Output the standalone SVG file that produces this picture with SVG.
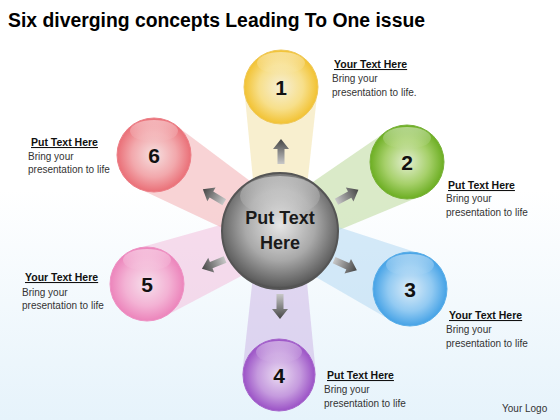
<svg xmlns="http://www.w3.org/2000/svg" width="560" height="420" viewBox="0 0 560 420">
<defs>
<style>
.title{font-family:"Liberation Sans",Arial,sans-serif;font-weight:bold;font-size:20px;fill:#000}
.hd{font-family:"Liberation Sans",Arial,sans-serif;font-weight:bold;font-size:10.5px;fill:#111;text-decoration:underline}
.bd{font-family:"Liberation Sans",Arial,sans-serif;font-size:10px;fill:#333}
.num{font-family:"Liberation Sans",Arial,sans-serif;font-weight:bold;font-size:21px;fill:#111;text-anchor:middle}
.ctr{font-family:"Liberation Sans",Arial,sans-serif;font-weight:bold;font-size:18px;fill:#1a1a1a;text-anchor:middle}
.logo{font-family:"Liberation Sans",Arial,sans-serif;font-size:10px;fill:#333}
.beam{opacity:0.55}
.hl{fill:url(#hl)}
</style>
<linearGradient id="bg" x1="0" y1="0" x2="0" y2="1">
<stop offset="0.45" stop-color="#ffffff"/>
<stop offset="1" stop-color="#e6f3fb"/>
</linearGradient>
<linearGradient id="hl" x1="0" y1="0" x2="0" y2="1">
<stop offset="0" stop-color="#fff" stop-opacity="0.45"/>
<stop offset="1" stop-color="#fff" stop-opacity="0"/>
</linearGradient>
<linearGradient id="arr" x1="0" y1="0" x2="0" y2="1">
<stop offset="0" stop-color="#444"/>
<stop offset="1" stop-color="#c8c8c8"/>
</linearGradient>
<radialGradient id="g1" cx="0.5" cy="0.5" r="0.5"><stop offset="0" stop-color="#f6efd6"/><stop offset="0.6" stop-color="#f7df8a"/><stop offset="1" stop-color="#f2c232"/></radialGradient>
<radialGradient id="g2" cx="0.5" cy="0.5" r="0.5"><stop offset="0" stop-color="#e4efd2"/><stop offset="0.6" stop-color="#a6d06a"/><stop offset="1" stop-color="#6cae22"/></radialGradient>
<radialGradient id="g3" cx="0.5" cy="0.5" r="0.5"><stop offset="0" stop-color="#dcecf8"/><stop offset="0.6" stop-color="#92caf2"/><stop offset="1" stop-color="#45a2e6"/></radialGradient>
<radialGradient id="g4" cx="0.5" cy="0.5" r="0.5"><stop offset="0" stop-color="#eadcf2"/><stop offset="0.6" stop-color="#c59ade"/><stop offset="1" stop-color="#9b52c6"/></radialGradient>
<radialGradient id="g5" cx="0.5" cy="0.5" r="0.5"><stop offset="0" stop-color="#f6e0ec"/><stop offset="0.6" stop-color="#f3b2d4"/><stop offset="1" stop-color="#ec84bb"/></radialGradient>
<radialGradient id="g6" cx="0.5" cy="0.5" r="0.5"><stop offset="0" stop-color="#f6e0e0"/><stop offset="0.6" stop-color="#f2a8ac"/><stop offset="1" stop-color="#ea6f77"/></radialGradient>
<radialGradient id="gc" cx="0.5" cy="0.45" r="0.55"><stop offset="0" stop-color="#e6e6e6"/><stop offset="0.55" stop-color="#a9a9a9"/><stop offset="0.95" stop-color="#5e5e5e"/><stop offset="1" stop-color="#4a4a4a"/></radialGradient>
<path id="arrow" d="M0,-13 L8,-3 L3.5,-3 L3.5,12 L-3.5,12 L-3.5,-3 L-8,-3 Z" fill="url(#arr)"/>
</defs>
<rect width="560" height="420" fill="url(#bg)"/>
<text class="title" x="8" y="27" textLength="417" lengthAdjust="spacingAndGlyphs">Six diverging concepts Leading To One issue</text>

<g id="connectors">
<polygon class="beam" fill="#f2e2a8" points="318,87 244,87 258,231 302,231"/>
<polygon class="beam" fill="#bcd89a" points="424.7,194.5 389.3,129.5 269.5,211.7 290.5,250.3"/>
<polygon class="beam" fill="#b4d8f2" points="394.9,322.8 425.1,255.2 289,210.9 271,251.1"/>
<polygon class="beam" fill="#cdb8e6" points="316,375 242,375 258,231 302,231"/>
<polygon class="beam" fill="#f2c0dc" points="160.7,318.4 133.3,249.6 271.9,210.6 288.1,251.4"/>
<polygon class="beam" fill="#f2aeb2" points="134.9,186.7 173.1,123.3 291.4,212.2 268.6,249.8"/>
<use href="#arrow" transform="translate(281,152)"/>
<use href="#arrow" transform="translate(347,196) rotate(61.5)"/>
<use href="#arrow" transform="translate(345,265) rotate(114)"/>
<use href="#arrow" transform="translate(280,306) rotate(180)"/>
<use href="#arrow" transform="translate(214,264) rotate(248)"/>
<use href="#arrow" transform="translate(214,196) rotate(-59)"/>
</g>

<g id="center">
<circle cx="280" cy="231" r="58" fill="url(#gc)" stroke="#555" stroke-width="2"/>
<ellipse class="hl" cx="280" cy="196" rx="40" ry="20"/>
<text class="ctr" x="280" y="224">Put Text</text>
<text class="ctr" x="280" y="249">Here</text>
</g>

<g id="node1">
<circle cx="281" cy="87" r="37" fill="url(#g1)" stroke="#efc85a" stroke-width="1"/>
<ellipse class="hl" cx="281" cy="63" rx="24" ry="11"/>
<text class="num" x="281" y="95">1</text>
<text class="hd" x="334" y="68">Your  Text Here</text>
<text class="bd" x="332" y="82">Bring your</text>
<text class="bd" x="332" y="96">presentation to life.</text>
</g>
<g id="node2">
<circle cx="407" cy="162" r="37" fill="url(#g2)" stroke="#79b23a" stroke-width="1"/>
<ellipse class="hl" cx="407" cy="138" rx="24" ry="11"/>
<text class="num" x="407" y="170">2</text>
<text class="hd" x="448" y="189">Put Text Here</text>
<text class="bd" x="446" y="202">Bring your</text>
<text class="bd" x="446" y="216">presentation to life</text>
</g>
<g id="node3">
<circle cx="410" cy="289" r="37" fill="url(#g3)" stroke="#5aaee8" stroke-width="1"/>
<ellipse class="hl" cx="410" cy="265" rx="24" ry="11"/>
<text class="num" x="410" y="297">3</text>
<text class="hd" x="449" y="319">Your  Text Here</text>
<text class="bd" x="446" y="333">Bring your</text>
<text class="bd" x="446" y="347">presentation to life</text>
</g>
<g id="node4">
<circle cx="279" cy="375" r="36" fill="url(#g4)" stroke="#a666cc" stroke-width="1"/>
<ellipse class="hl" cx="279" cy="352" rx="23" ry="11"/>
<text class="num" x="279" y="383">4</text>
<text class="hd" x="327" y="379">Put Text Here</text>
<text class="bd" x="324" y="393">Bring your</text>
<text class="bd" x="324" y="407">presentation to life</text>
</g>
<g id="node5">
<circle cx="147" cy="284" r="37" fill="url(#g5)" stroke="#ee92c4" stroke-width="1"/>
<ellipse class="hl" cx="147" cy="260" rx="24" ry="11"/>
<text class="num" x="147" y="292">5</text>
<text class="hd" x="25" y="281">Your  Text Here</text>
<text class="bd" x="22" y="296">Bring your</text>
<text class="bd" x="22" y="309">presentation to life</text>
</g>
<g id="node6">
<circle cx="154" cy="155" r="37" fill="url(#g6)" stroke="#ec8088" stroke-width="1"/>
<ellipse class="hl" cx="154" cy="131" rx="24" ry="11"/>
<text class="num" x="154" y="163">6</text>
<text class="hd" x="31" y="146">Put Text Here</text>
<text class="bd" x="28" y="160">Bring your</text>
<text class="bd" x="28" y="173">presentation to life</text>
</g>
<text class="logo" x="502" y="412">Your Logo</text>
</svg>
